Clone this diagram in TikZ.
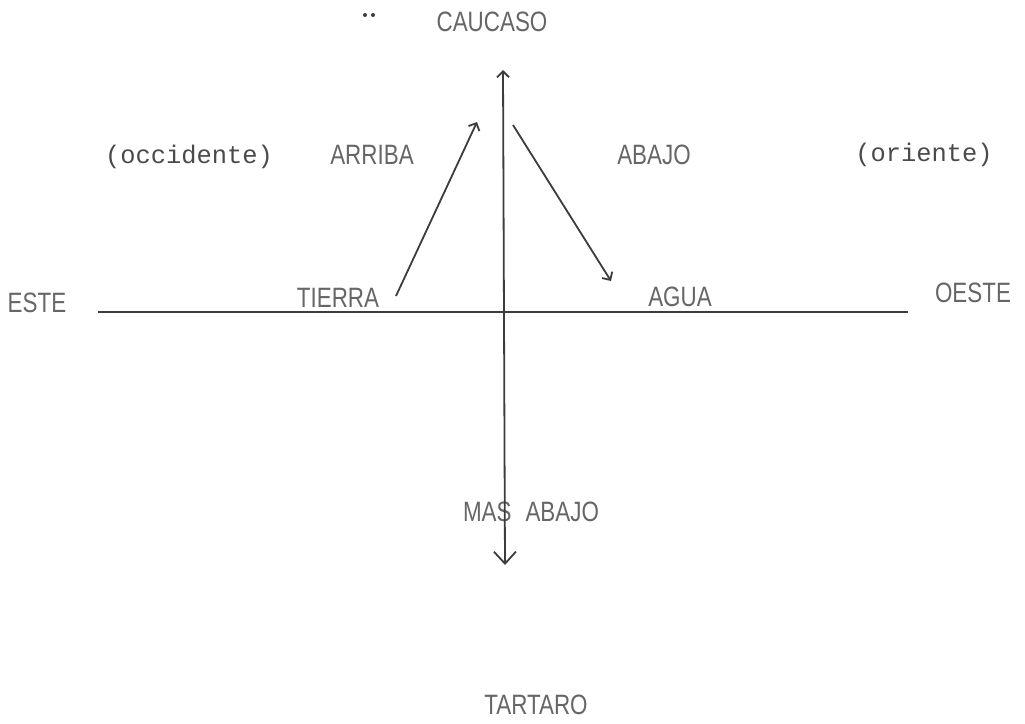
\documentclass[tikz,border=0pt]{standalone}
\usepackage{fontspec}
\usetikzlibrary{arrows.meta}
\newfontfamily\capsfont[FakeStretch=0.8]{Liberation Sans}
\newfontfamily\monofont{Liberation Mono}
\definecolor{inkgray}{HTML}{666666}
\definecolor{monogray}{HTML}{4A4A4A}
\definecolor{linegray}{HTML}{3C3C3C}
\begin{document}
\begin{tikzpicture}[x=0.5pt,y=-0.5pt,
  caps/.style={text=inkgray,font=\capsfont\fontsize{14}{16}\selectfont,inner sep=0pt},
  mono/.style={text=monogray,font=\monofont\fontsize{12.7}{15}\selectfont,inner sep=0pt},
  stroke/.style={draw=linegray,line width=0.9pt},
  ]
\useasboundingbox (0,0) rectangle (1025,724);
% labels
\node[caps] (caucaso) at (492,22) {CAUCASO};
\node[caps] (tartaro) at (536,705) {TARTARO};
\node[caps] (este) at (37,303) {ESTE};
\node[caps] (oeste) at (973,293) {OESTE};
\node[caps] (tierra) at (338,298) {TIERRA};
\node[caps] (agua) at (680,297) {AGUA};
\node[caps] (arriba) at (372,155) {ARRIBA};
\node[caps] (abajo) at (654,155) {ABAJO};
\node[caps] (masabajo) at (531,512) {MAS\hspace{7pt}ABAJO};
\node[mono] (occidente) at (189,157) {(occidente)};
\node[mono] (oriente) at (924,155) {(oriente)};
% two dots
\coordinate (dotA) at (365,15);
\coordinate (dotB) at (373,15);
\fill[linegray] (dotA) circle (2);
\fill[linegray] (dotB) circle (2);
% axes
\coordinate (west) at (98,312);
\coordinate (east) at (908,312);
\coordinate (up) at (503,70);
\coordinate (down) at (505,565);
\draw[stroke] (west) -- (east);
\draw[stroke,{Straight Barb[length=3pt,width=6pt]}-{Straight Barb[length=6pt,width=11pt]}] (up) -- (down);
% diagonal arrows
\coordinate (a1s) at (396,296);
\coordinate (a1e) at (477,122);
\coordinate (a2s) at (513,125);
\coordinate (a2e) at (611,281);
\draw[stroke,-{Straight Barb[length=3pt,width=6pt]}] (a1s) -- (a1e);
\draw[stroke,-{Straight Barb[length=3pt,width=6pt]}] (a2s) -- (a2e);
\end{tikzpicture}
\end{document}
